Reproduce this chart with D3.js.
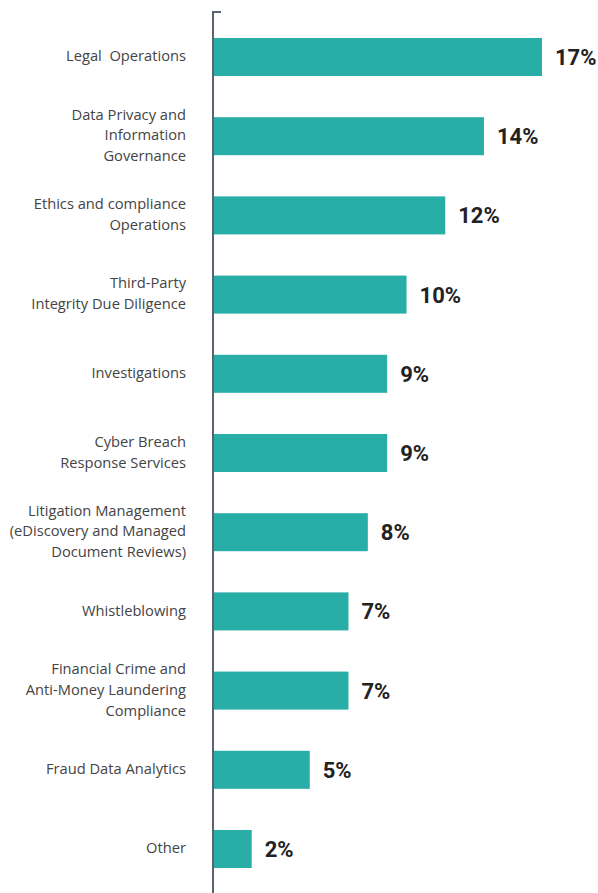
<!DOCTYPE html>
<html>
<head>
<meta charset="utf-8">
<script src="https://cdn.jsdelivr.net/npm/d3@7"></script>
<style>
  html, body { margin: 0; padding: 0; background: #fff; }
  svg { display: block; }
</style>
</head>
<body>
<svg id="chart" width="598" height="893"></svg>
<script>
// Service areas (multi-line labels split with "\n") and their shares in percent
const categories = [
  "Legal  Operations",
  "Data Privacy and\nInformation\nGovernance",
  "Ethics and compliance\nOperations",
  "Third-Party\nIntegrity Due Diligence",
  "Investigations",
  "Cyber Breach\nResponse Services",
  "Litigation Management\n(eDiscovery and Managed\nDocument Reviews)",
  "Whistleblowing",
  "Financial Crime and\nAnti-Money Laundering\nCompliance",
  "Fraud Data Analytics",
  "Other"
];
const values = [17, 14, 12, 10, 9, 9, 8, 7, 7, 5, 2];

const width = 598, height = 893;
const axisX = 213;

const svg = d3.select("#chart");

const x = d3.scaleLinear().domain([0, 17]).range([axisX, 542]);
const y = d3.scaleBand()
  .domain(categories)
  .range([17.4, 888.6])
  .paddingInner(0.52)
  .paddingOuter(0.26);

// bars
svg.append("g")
  .selectAll("rect")
  .data(values)
  .join("rect")
  .attr("x", x(0))
  .attr("y", (d, i) => y(categories[i]))
  .attr("width", d => x(d) - x(0))
  .attr("height", y.bandwidth())
  .attr("fill", "#29ada7");

// value labels
svg.append("g")
  .selectAll("text")
  .data(values)
  .join("text")
  .attr("x", d => x(d) + 13)
  .attr("y", (d, i) => y(categories[i]) + y.bandwidth() / 2)
  .attr("dy", "0.36em")
  .attr("font-family", "Roboto, 'Liberation Sans', sans-serif")
  .attr("font-weight", "bold")
  .attr("font-size", 22)
  .attr("fill", "#222")
  .text(d => d + "%");

// category labels, right-aligned against the axis
const lineH = 20.8;
const labels = svg.append("g")
  .attr("font-family", "'Open Sans', Lato, sans-serif")
  .attr("font-size", 14.7)
  .attr("fill", "#444")
  .attr("text-anchor", "end");

categories.forEach(c => {
  const lines = c.split("\n");
  const cy = y(c) + y.bandwidth() / 2;
  const t = labels.append("text")
    .attr("x", 186)
    .attr("y", cy - (lines.length - 1) * lineH / 2 - 1)
    .style("white-space", "pre");
  lines.forEach((ln, i) => {
    t.append("tspan")
      .attr("x", 186)
      .attr("dy", i === 0 ? "0.35em" : lineH)
      .text(ln);
  });
});

// vertical axis line with a short cap at the top
const axisG = svg.append("g")
  .attr("stroke", "#5b6371")
  .attr("stroke-width", 2)
  .attr("fill", "none");
axisG.append("path")
  .attr("d", d3.line()([[221, 12], [axisX, 12], [axisX, height]]));
</script>
</body>
</html>
